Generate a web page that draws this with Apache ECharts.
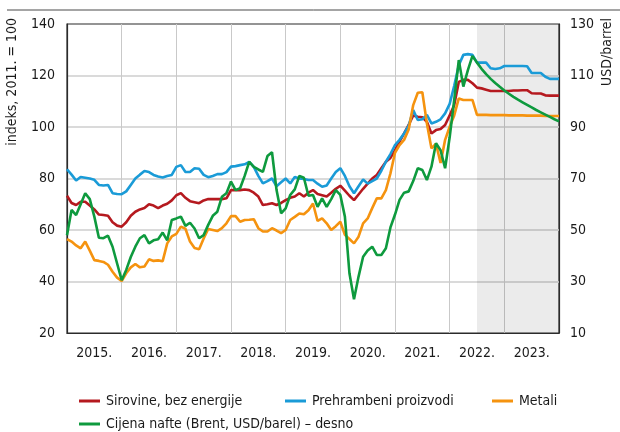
<!DOCTYPE html>
<html>
<head>
<meta charset="utf-8">
<script src="https://cdn.jsdelivr.net/npm/echarts@6/dist/echarts.min.js"></script>
<style>
  html, body { margin: 0; padding: 0; background: #fff; }
  #chart { width: 620px; height: 432px; }
</style>
</head>
<body>
<div id="chart"></div>
<script>
// ---- data ----
const yearLabels = ['2015.', '2016.', '2017.', '2018.', '2019.', '2020.', '2021.', '2022.', '2023.'];
const firstYear = 2015;
// monthly categories Jan 2015 .. Jan 2024
const months = [];
for (let y = firstYear; y <= 2023; y++) {
  for (let m = 1; m <= 12; m++) months.push(y + '-' + (m < 10 ? '0' + m : m));
}
months.push('2024-01');
const forecastStart = '2022-07';
const forecastEnd = '2024-01';

const seriesNames = [
  'Sirovine, bez energije',
  'Prehrambeni proizvodi',
  'Metali',
  'Cijena nafte (Brent, USD/barel) – desno'
];

const sirovine = [
  73.3, 70.5, 69.7, 71, 71, 69.5, 68, 66, 65.8, 65.5, 63, 61.7,
  61.3, 63, 65.5, 67.1, 68, 68.5, 70, 69.5, 68.5, 69.5, 70.2, 71.5,
  73.5, 74.3, 72.5, 71.2, 70.8, 70.4, 71.5, 72, 72, 72, 72, 72.3,
  75.5, 75.5, 75.5, 75.7, 75.5, 74.5, 73, 69.7, 70, 70.4, 69.7, 70.5,
  71.6, 72.5, 73, 74.3, 73, 74.5, 75.5, 74, 73.5, 73, 74.5, 76,
  77.2, 75.3, 73.3, 71.6, 73.8, 76, 78, 80, 81.4, 84, 86.5, 88,
  91, 94.3, 97.5, 100.8, 104.5, 104, 103.8, 102, 97.5, 98.8, 99.2, 100.8,
  104.5, 108.5, 117.5, 118.3, 118.3, 117, 115.3, 115, 114.5, 114, 114, 114,
  114, 114, 114.2, 114.2, 114.3, 114.3, 113.1, 113, 113, 112.3, 112.2, 112.2,
  112.2
];

const prehrambeni = [
  83.6, 81.5, 79.2, 80.6, 80.3, 80, 79.5, 77.5, 77.3, 77.5, 74.3, 74,
  73.9, 75, 77.5, 80, 81.5, 82.9, 82.5, 81.4, 80.8, 80.4, 81, 81.4,
  84.5, 85.2, 82.5, 82.5, 84, 83.8, 81.4, 80.5, 81, 81.7, 81.7, 82.5,
  84.6, 84.8, 85.2, 85.5, 86.5, 84.5, 81, 78.1, 79, 80, 77, 78.5,
  80, 78.1, 80.6, 80, 79.8, 79.4, 79.4, 78, 76.8, 77.3, 80, 82.5,
  84, 81, 77, 74.3, 77, 79.6, 78, 79, 80, 83, 86.5, 89.5,
  93, 95, 97.5, 100.5, 106.6, 102.7, 103, 104.7, 101.4, 102, 103, 105.3,
  109, 116, 124, 128, 128.3, 128, 125, 125, 125, 122.8, 122.5, 122.8,
  123.7, 123.7, 123.7, 123.7, 123.7, 123.6, 121, 121, 121, 119.5, 118.7, 118.7,
  118.7
];

const metali = [
  56.5, 55.5, 54, 52.9, 55.5, 52, 48.3, 48, 47.6, 46.5, 43.8, 41.5,
  40.2, 43.2, 45.5, 46.8, 45.5, 45.8, 48.6, 48, 48.2, 47.9, 54.8, 57.5,
  58.5, 61.3, 60.5, 55.5, 53, 52.5, 56.7, 60.4, 60, 59.6, 60.7, 62.6,
  65.4, 65.4, 63.2, 63.9, 64, 64.2, 60.7, 59.4, 59.4, 60.7, 59.8, 58.8,
  60, 63.9, 65.1, 66.4, 66.1, 67.7, 70.3, 63.5, 64.5, 62.6, 60, 61.5,
  63.2, 58.1, 56.5, 54.8, 57.4, 62.6, 64.5, 68.5, 72.3, 72.3, 75.5, 82,
  90, 93, 95, 99, 108.5, 113.3, 113.5, 101.4, 91.7, 93.5, 86, 95,
  100.1, 104.5, 111.1, 110.5, 110.5, 110.5, 104.7, 104.7, 104.7, 104.6, 104.6, 104.6,
  104.6, 104.5, 104.5, 104.5, 104.5, 104.4, 104.4, 104.4, 104.4, 104.3, 104.3, 104.3,
  104.3
];

const nafta = [
  48, 57.8, 55.8, 60, 64.3, 62, 55.2, 47, 46.8, 47.8, 43.5, 37,
  30.5, 34.5, 39.5, 43.5, 46.8, 48, 44.8, 46, 46.4, 49, 46, 53.9,
  54.5, 55.2, 51.6, 52.8, 50.6, 46.8, 48, 52, 55.5, 57.1, 62.9, 64.3,
  68.8, 65.5, 66.2, 71, 76.5, 74.5, 73.5, 72.6, 78.7, 80.2, 65.5, 56.5,
  58.4, 63.6, 65.8, 71, 70.3, 63.3, 63.6, 59, 62.3, 59, 62, 65.5,
  63.6, 55.2, 33.2, 23.1, 31.9, 39.6, 42, 43.5, 40.3, 40.3, 42.9, 51,
  56, 61.7, 64.5, 65, 69, 74, 73.3, 69.4, 74.6, 83.7, 81, 74,
  86, 100.5, 116, 105.7, 112.1, 117.6, 115, 112.6, 110.5, 108.7, 107.1, 105.6,
  104.2, 102.9, 101.7, 100.6, 99.6, 98.6, 97.6, 96.6, 95.7, 94.8, 93.9, 93,
  92.2
];

const leftTicks = { min: 20, max: 140, interval: 20 };
const rightTicks = { min: 10, max: 130, interval: 20 };

const colors = ['#b5191f', '#1a9bd7', '#f5930f', '#0e9a3e'];
const FONT = "'Liberation Sans Narrow', 'DejaVu Sans Condensed', 'Arial Narrow', sans-serif";

const chart = echarts.init(document.getElementById('chart'), null, { renderer: 'canvas' });

function legendFor(i, left, top) {
  return {
    data: [seriesNames[i]],
    left: left, top: top,
    icon: 'rect', itemWidth: 21, itemHeight: 3, itemGap: 0,
    padding: 0,
    textStyle: { fontFamily: FONT, fontSize: 14, color: '#1a1a1a', padding: [0, 0, 0, 1] },
    selectedMode: false
  };
}

const option = {
  animation: false,
  color: colors,
  textStyle: { fontFamily: FONT },
  grid: {
    left: 67, right: 61, top: 24, bottom: 99,
    show: true, borderColor: '#2b2b2b', borderWidth: 1.2, backgroundColor: 'transparent'
  },
  legend: [
    legendFor(0, 79, 394),
    legendFor(1, 285, 394),
    legendFor(2, 492, 394),
    legendFor(3, 79, 417)
  ],
  graphic: [
    { type: 'line', shape: { x1: 7, y1: 10, x2: 620, y2: 10 }, style: { stroke: '#4a4a4a', lineWidth: 1 } },
    { type: 'text', x: 12, y: 18, rotation: Math.PI / 2,
      style: { text: 'indeks, 2011. = 100', fontFamily: FONT, fontSize: 14, fill: '#1a1a1a', align: 'right', verticalAlign: 'middle' } },
    { type: 'text', x: 607, y: 18, rotation: Math.PI / 2,
      style: { text: 'USD/barrel', fontFamily: FONT, fontSize: 14, fill: '#1a1a1a', align: 'right', verticalAlign: 'middle' } }
  ],
  xAxis: [
    {
      type: 'category', data: months, boundaryGap: false,
      axisLine: { show: true, lineStyle: { color: '#2b2b2b', width: 1.2 } },
      axisTick: { show: false }, axisLabel: { show: false },
      splitLine: {
        show: true,
        interval: function (idx) { return idx % 12 === 0 && idx !== 0 && idx !== months.length - 1; },
        lineStyle: { color: '#c9c9c9', width: 1 }
      }
    },
    {
      type: 'category', data: yearLabels, boundaryGap: true, position: 'bottom',
      axisLine: { show: false }, axisTick: { show: false }, splitLine: { show: false },
      axisLabel: { fontFamily: FONT, fontSize: 14, color: '#1a1a1a', margin: 13, interval: 0 }
    }
  ],
  yAxis: [
    {
      type: 'value', min: leftTicks.min, max: leftTicks.max, interval: leftTicks.interval,
      axisLine: { show: true, lineStyle: { color: '#2b2b2b', width: 1.2 } },
      axisTick: { show: false },
      axisLabel: { fontFamily: FONT, fontSize: 14, color: '#1a1a1a', margin: 12 },
      splitLine: { show: true, showMinLine: false, showMaxLine: false, lineStyle: { color: '#dadada', width: 2 } }
    },
    {
      type: 'value', min: rightTicks.min, max: rightTicks.max, interval: rightTicks.interval,
      position: 'right',
      axisLine: { show: true, lineStyle: { color: '#2b2b2b', width: 1.2 } },
      axisTick: { show: false },
      axisLabel: { fontFamily: FONT, fontSize: 14, color: '#1a1a1a', margin: 11 },
      splitLine: { show: false }
    }
  ],
  series: [
    {
      name: seriesNames[0], type: 'line', data: sirovine, xAxisIndex: 0, yAxisIndex: 0,
      showSymbol: false, lineStyle: { width: 2.6, color: colors[0] }, z: 3,
      markArea: {
        silent: true,
        itemStyle: { color: 'rgba(0,0,0,0.08)' },
        label: { show: false },
        data: [[{ xAxis: forecastStart }, { xAxis: forecastEnd }]]
      }
    },
    { name: seriesNames[1], type: 'line', data: prehrambeni, xAxisIndex: 0, yAxisIndex: 0,
      showSymbol: false, lineStyle: { width: 2.6, color: colors[1] }, z: 4 },
    { name: seriesNames[2], type: 'line', data: metali, xAxisIndex: 0, yAxisIndex: 0,
      showSymbol: false, lineStyle: { width: 2.6, color: colors[2] }, z: 5 },
    { name: seriesNames[3], type: 'line', data: nafta, xAxisIndex: 0, yAxisIndex: 1,
      showSymbol: false, lineStyle: { width: 2.6, color: colors[3] }, z: 6 }
  ]
};

chart.setOption(option);
</script>
</body>
</html>
